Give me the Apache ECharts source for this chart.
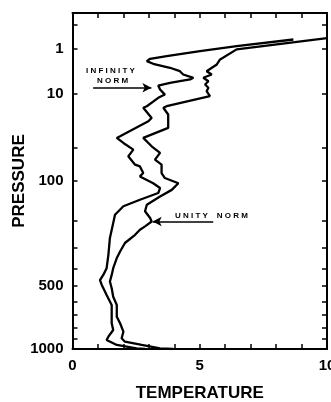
<!DOCTYPE html>
<html><head><meta charset="utf-8">
<script src="https://cdn.jsdelivr.net/npm/echarts@6/dist/echarts.min.js"></script>
<style>html,body{margin:0;padding:0;background:#fff}#c{width:331px;height:402px}</style>
</head><body><div id="c"></div>
<script>
const K = 0.286;
const infPressure = [0.49,0.84,1.21,1.68,1.97,2.26,2.62,3.24,3.85,4.51,5.25,5.66,6.53,7.31,8.58,10.4,11.7,15.6,16.4,22.5,24.8,37.3,38.9,44.1,51.7,60.3,72.3,75,86,92,105,115,126,142,159,183,209,262,333,398,434,463,492,534,555,624,686,765,822,882,913,960,993,1000];
const infTemp = [8.68,6.45,5.01,3.70,3.05,2.92,3.17,3.83,4.22,4.35,4.75,4.62,3.83,3.37,3.44,3.63,3.37,2.92,2.78,3.11,2.98,1.87,1.74,2.00,2.39,2.19,2.46,2.65,2.78,2.65,3.17,3.44,3.37,2.65,2.00,1.67,1.60,1.47,1.41,1.34,1.21,1.08,1.15,1.28,1.34,1.54,1.54,1.54,1.60,1.41,1.34,1.74,2.52,2.85];
const unityPressure = [0.43,1.07,2.05,2.72,3.85,4.51,5.25,6.10,7.01,8.02,9.16,11.0,15.6,16.4,20.3,29.9,38.9,40.6,47.8,55.8,64.9,72.3,75,86,95,105,119,134,155,173,193,204,220,232,250,282,318,348,398,434,472,512,567,624,712,765,837,897,929,960,993,1000];
const unityTemp = [10.0,6.45,5.80,5.67,5.27,5.47,5.14,5.34,5.21,5.34,5.27,5.40,3.70,3.57,3.76,3.76,2.78,2.72,3.11,3.44,3.24,3.50,3.44,3.50,3.63,4.16,3.90,3.44,2.92,2.85,3.05,3.11,2.85,2.65,2.46,2.06,1.87,1.74,1.60,1.54,1.47,1.54,1.60,1.74,1.74,1.87,2.00,1.93,2.06,2.72,3.44,3.95];
const pressureLabels = [1,10,100,500,1000];
const pressureTicks = [0.1,1,10,50,100,200,300,400,500,600,700,800,900,1000];
const tempLabels = [0,5,10];
const pMin = 0.01, pMax = 1000;

const f = p => Math.pow(p, K);
const finv = v => Math.pow(v, 1 / K);
const toData = (ps, ts) => ps.map((p, i) => [ts[i], f(p)]);

const chart = echarts.init(document.getElementById('c'));
const FONT = 'Liberation Sans';
const axisLine = {show: true, onZero: false, lineStyle: {color: '#000', width: 2}};
const yTick = {show: true, inside: true, length: 5, lineStyle: {color: '#000', width: 1.5}, customValues: pressureTicks.map(f)};
const xTick = {show: true, inside: true, length: 5, lineStyle: {color: '#000', width: 1.5}};

chart.setOption({
  animation: false,
  grid: {left: 72.5, right: 4, top: 13, bottom: 53, containLabel: false, outerBoundsMode: 'none'},
  xAxis: [{
    type: 'value', min: 0, max: 10, interval: 1, position: 'bottom',
    axisLine, axisTick: xTick, splitLine: {show: false},
    axisLabel: {margin: 9, color: '#000', fontFamily: FONT, fontWeight: 'bold', fontSize: 15,
      formatter: v => tempLabels.includes(v) ? String(v) : ''},
    name: 'TEMPERATURE', nameLocation: 'middle', nameGap: 36, nameMoveOverlap: false,
    nameTextStyle: {color: '#000', fontFamily: FONT, fontWeight: 'bold', fontSize: 17}
  }, {
    type: 'value', min: 0, max: 10, interval: 1, position: 'top',
    axisLine, axisTick: xTick, splitLine: {show: false}, axisLabel: {show: false}
  }],
  yAxis: [{
    type: 'value', inverse: true, min: f(pMin), max: f(pMax), position: 'left',
    axisLine, axisTick: yTick, splitLine: {show: false},
    axisLabel: {show: true, margin: 9, color: '#000', fontFamily: FONT, fontWeight: 'bold', fontSize: 15,
      customValues: pressureLabels.map(f), formatter: v => String(Math.round(finv(v)))},
    name: 'PRESSURE', nameLocation: 'middle', nameGap: 45, nameRotate: 90, nameMoveOverlap: false,
    nameTextStyle: {color: '#000', fontFamily: FONT, fontWeight: 'bold', fontSize: 17}
  }, {
    type: 'value', inverse: true, min: f(pMin), max: f(pMax), position: 'right',
    axisLine, axisTick: yTick, splitLine: {show: false}, axisLabel: {show: false}
  }],
  series: [{
    name: 'INFINITY NORM', type: 'line', data: toData(infPressure, infTemp),
    showSymbol: false, symbol: 'none', lineStyle: {color: '#000', width: 2.3},
    markLine: {silent: true, symbol: ['none', 'arrow'], symbolSize: [7, 9], label: {show: false},
      lineStyle: {color: '#000', width: 1.5, type: 'solid'},
      data: [[{coord: [0.81, f(8.0)]}, {coord: [3.1, f(8.0)]}]]}
  }, {
    name: 'UNITY NORM', type: 'line', data: toData(unityPressure, unityTemp),
    showSymbol: false, symbol: 'none', lineStyle: {color: '#000', width: 2.3},
    markLine: {silent: true, symbol: ['none', 'arrow'], symbolSize: [7, 9], label: {show: false},
      lineStyle: {color: '#000', width: 1.5, type: 'solid'},
      data: [[{coord: [5.53, f(204)]}, {coord: [3.15, f(204)]}]]}
  }],
  graphic: [
    {type: 'text', left: 86, top: 67, style: {text: 'I N F I N I T Y', fontFamily: FONT, fontWeight: 'bold', fontSize: 8, fill: '#000'}},
    {type: 'text', left: 97, top: 77, style: {text: 'N O R M', fontFamily: FONT, fontWeight: 'bold', fontSize: 8, fill: '#000'}},
    {type: 'text', left: 175, top: 212, style: {text: 'U N I T Y    N O R M', fontFamily: FONT, fontWeight: 'bold', fontSize: 8, fill: '#000'}}
  ]
});
</script></body></html>
